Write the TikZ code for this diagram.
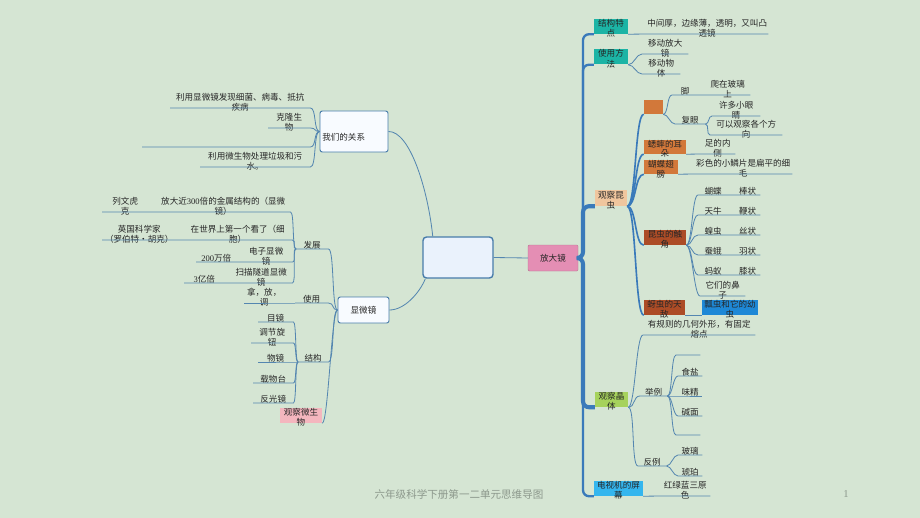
\documentclass[tikz,border=0pt]{standalone}
\usepackage{fontspec}
\setmainfont{Noto Sans CJK SC}
\newfontfamily\numf{Liberation Serif}

\definecolor{bgc}{RGB}{213,229,211}
\definecolor{linec}{RGB}{84,134,176}
\definecolor{trunkc}{RGB}{58,122,186}
\definecolor{txtc}{RGB}{38,38,38}
\definecolor{centerfill}{RGB}{234,242,252}
\definecolor{centerline}{RGB}{72,124,170}
\definecolor{relfill}{RGB}{248,251,255}
\definecolor{pinkbox}{RGB}{228,142,180}
\definecolor{tealbox}{RGB}{28,180,165}
\definecolor{peachbox}{RGB}{240,198,158}
\definecolor{orangebox}{RGB}{210,120,58}
\definecolor{brownbox}{RGB}{172,76,38}
\definecolor{bluebox}{RGB}{30,136,214}
\definecolor{greenbox}{RGB}{166,210,92}
\definecolor{cyanbox}{RGB}{52,182,238}
\definecolor{rosebox}{RGB}{244,182,190}
\definecolor{footc}{RGB}{140,152,140}

\newcommand{\px}{0.3mm}
\newcommand{\leaffont}{\fontsize{7.3}{8.3}\selectfont}
\newcommand{\twoln}[2]{\raisebox{0pt}[0pt][0pt]{\begin{tabular}[t]{@{}c@{}}#1\\#2\end{tabular}}}

\begin{document}
\begin{tikzpicture}[
    x=\px, y=-\px,
    br/.style={draw=linec, line width=0.7pt},
    brk/.style={draw=trunkc, line width=1.4pt},
    trunk/.style={draw=trunkc, line width=#1, rounded corners=1.8mm},
    cv/.style={to path={.. controls +(#1,0) and +(-#1,0) .. (\tikztotarget) \tikztonodes}},
    leaf/.style={inner sep=0pt, anchor=south west, align=center,
      font=\leaffont, text=txtc, minimum width=#1*\px},
    leaftwo/.style={leaf=#1, outer ysep=-2.5pt},
    catbox/.style={inner sep=0pt, font=\leaffont, text=txtc,
      minimum width=#1*\px, minimum height=15*\px},
    hubbox/.style={draw=centerline, line width=0.8pt, fill=relfill,
      rounded corners=2pt, font=\leaffont, text=txtc, inner sep=0pt}
  ]

  \fill[bgc] (0,0) rectangle (920,518);
  \useasboundingbox (0,0) rectangle (920,518);

  % centre
  \node[draw=centerline, line width=1.2pt, fill=centerfill, rounded corners=3pt,
    minimum width=70*\px, minimum height=41*\px] (zx) at (458,257.5) {};
  \node[fill=pinkbox, draw=pinkbox!80!black, rounded corners=1pt, font=\leaffont,
    text=txtc, inner sep=0pt, minimum width=50*\px, minimum height=26*\px] (fdj) at (553,258) {放大镜};
  \node[hubbox, minimum width=68*\px, minimum height=41*\px] (wmgx) at (354,131.5)
    {\makebox[19mm][l]{\raisebox{-7.5pt}[0pt][0pt]{我们的关系}}};
  \node[hubbox, minimum width=51*\px, minimum height=26*\px] (xwj) at (363.5,310) {显微镜};

  \draw[br] (zx.east) -- (fdj.west);
  \draw[br] (zx.140) .. controls (428,190) and (410,131) .. (wmgx.east);
  \draw[br] (zx.213) .. controls (420,292) and (405,310) .. (xwj.east);

  % left: relation
  \node[leaftwo=140] (wm1) at (170,108) {利用显微镜发现细菌、病毒、抵抗\\疾病};
  \node[leaftwo=42] (wm2) at (268,128) {克隆生\\物};
  \node[leaf=168] (wm3) at (142,147) {};
  \node[leaftwo=110] (wm4) at (200,167) {利用微生物处理垃圾和污\\水。};

  \draw[br] (wmgx.west) to[cv=-6] (wm1.south east) -- (wm1.south west);
  \draw[br] (wmgx.west) to[cv=-6] (wm2.south east) -- (wm2.south west);
  \draw[br] (wmgx.west) to[cv=-6] (wm3.south east) -- (wm3.south west);
  \draw[br] (wmgx.west) to[cv=-6] (wm4.south east) -- (wm4.south west);

  % left: microscope
  \node[leaf=32] (fz) at (296,249) {发展};
  \node[leaf=33] (sy) at (295,303) {使用};
  \node[leaf=30] (jg) at (298,362) {结构};
  \node[catbox=42, fill=rosebox] (gcws) at (301,415.5) {\twoln{观察微生}{物}};

  \draw[br] (xwj.west) to[cv=-6] (fz.south east) -- (fz.south west);
  \draw[br] (xwj.west) to[cv=-6] (sy.south east) -- (sy.south west);
  \draw[br] (xwj.west) to[cv=-6] (jg.south east) -- (jg.south west);
  \draw[br] (xwj.west) to[cv=-6] (gcws.south east);

  \node[leaftwo=134] (fz1) at (156,212) {放大近{\numf 300}倍的金属结构的（显微\\镜）};
  \node[leaftwo=46] (fz1a) at (102,212) {列文虎\\克};
  \node[leaftwo=109] (fz2) at (183,240) {在世界上第一个看了（细\\胞）};
  \node[leaftwo=74] (fz2a) at (102,240) {英国科学家\\（罗伯特•胡克）};
  \node[leaftwo=52] (fz3) at (240,262) {电子显微\\镜};
  \node[leaf=40] (fz3a) at (196,262) {{\numf 200}万倍};
  \node[leaftwo=62] (fz4) at (230,283) {扫描隧道显微\\镜};
  \node[leaf=40] (fz4a) at (184,283) {{\numf 3}亿倍};

  \draw[br] (fz.south west) to[cv=-4] (fz1.south east) -- (fz1.south west) -- (fz1a.south east) -- (fz1a.south west);
  \draw[br] (fz.south west) to[cv=-4] (fz2.south east) -- (fz2.south west) -- (fz2a.south east) -- (fz2a.south west);
  \draw[br] (fz.south west) to[cv=-4] (fz3.south east) -- (fz3.south west) -- (fz3a.south east) -- (fz3a.south west);
  \draw[br] (fz.south west) to[cv=-4] (fz4.south east) -- (fz4.south west) -- (fz4a.south east) -- (fz4a.south west);

  \node[leaftwo=40] (sy1) at (244,303) {拿，放，\\调};
  \draw[br] (sy.south west) -- (sy1.south east) -- (sy1.south west);

  \node[leaf=35] (jg1) at (258,322) {目镜};
  \node[leaftwo=42] (jg2) at (251,343) {调节旋\\钮};
  \node[leaf=35] (jg3) at (258,362) {物镜};
  \node[leaf=40] (jg4) at (253,383) {载物台};
  \node[leaf=40] (jg5) at (253,403) {反光镜};

  \draw[br] (jg.south west) to[cv=-3] (jg1.south east) -- (jg1.south west);
  \draw[br] (jg.south west) to[cv=-3] (jg2.south east) -- (jg2.south west);
  \draw[br] (jg.south west) to[cv=-3] (jg3.south east) -- (jg3.south west);
  \draw[br] (jg.south west) to[cv=-3] (jg4.south east) -- (jg4.south west);
  \draw[br] (jg.south west) to[cv=-3] (jg5.south east) -- (jg5.south west);

  % right: magnifier
  \node[catbox=34, fill=tealbox] (jgtd) at (611,26.5) {\twoln{结构特}{点}};
  \node[catbox=34, fill=tealbox] (syff) at (611,57) {\twoln{使用方}{法}};
  \node[catbox=32, fill=peachbox, minimum height=16*\px] (gckc) at (611,198) {\twoln{观察昆}{虫}};
  \node[catbox=33, fill=greenbox] (gcjt) at (611.5,399.5) {\twoln{观察晶}{体}};
  \node[catbox=49, fill=cyanbox] (dsj) at (618.5,488.5) {\twoln{电视机的屏}{幕}};

  \draw[trunk=2pt] (fdj.east) -- (583,258) |- (jgtd.south west);
  \draw[trunk=2pt] (fdj.east) -- (583,258) |- (syff.south west);
  \draw[trunk=2pt] (fdj.east) -- (583,258) |- (dsj.south west);
  \draw[trunk=3.5pt] (fdj.east) -- (583,258) |- (gckc.south west);
  \draw[trunk=3.5pt] (fdj.east) -- (583,258) |- (gcjt.south west);

  \node[leaftwo=122] (jgtd1) at (646,34) {中间厚，边缘薄，透明，又叫凸\\透镜};
  \draw[br] (jgtd.south east) -- (jgtd1.south west) -- (jgtd1.south east);

  \node[leaftwo=46] (syff1) at (642,54) {移动放大\\镜};
  \node[leaftwo=38] (syff2) at (642,74) {移动物\\体};
  \draw[br] (syff.south east) to[cv=6] (syff1.south west) -- (syff1.south east);
  \draw[br] (syff.south east) to[cv=6] (syff2.south west) -- (syff2.south east);

  % insects
  \node[catbox=19, fill=orangebox, minimum height=14*\px] (kbox) at (653.5,107) {};
  \node[catbox=42, fill=orangebox, minimum height=14*\px] (xsez) at (665,147) {\twoln{蟋蟀的耳}{朵}};
  \node[catbox=34, fill=orangebox, minimum height=14*\px] (hdcb) at (661,167) {\twoln{蝴蝶翅}{膀}};
  \node[catbox=42, fill=brownbox] (kccj) at (665,237.5) {\twoln{昆虫的触}{角}};
  \node[catbox=41, fill=brownbox] (yctd) at (664.5,307.5) {\twoln{蚜虫的天}{敌}};
  \node[catbox=56, fill=bluebox] (pcyc) at (730,307.5) {\twoln{瓢虫和它的幼}{虫}};

  \draw[brk] (gckc.south east) to[cv=9] (kbox.south west);
  \draw[brk] (gckc.south east) to[cv=9] (xsez.south west);
  \draw[brk] (gckc.south east) to[cv=9] (hdcb.south west);
  \draw[brk] (gckc.south east) to[cv=9] (kccj.south west);
  \draw[brk] (gckc.south east) to[cv=9] (yctd.south west);

  \node[leaf=26] (jiao) at (672,95) {脚};
  \node[leaftwo=45] (pbl) at (705,95) {爬在玻璃\\上};
  \node[leaf=30] (fuy) at (675,124) {复眼};
  \node[leaftwo=48] (xdxy) at (712,116) {许多小眼\\睛};
  \node[leaftwo=72] (gcfx) at (710,135) {可以观察各个方\\向};

  \draw[br] (kbox.south east) to[cv=5] (jiao.south west) -- (jiao.south east) -- (pbl.south west) -- (pbl.south east);
  \draw[br] (kbox.south east) to[cv=5] (fuy.south west) -- (fuy.south east);
  \draw[br] (fuy.south east) to[cv=4] (xdxy.south west) -- (xdxy.south east);
  \draw[br] (fuy.south east) to[cv=4] (gcfx.south west) -- (gcfx.south east);

  \node[leaftwo=35] (zndc) at (700,154) {足的内\\侧};
  \draw[br] (xsez.south east) -- (zndc.south west) -- (zndc.south east);
  \node[leaftwo=98] (cslp) at (694,174) {彩色的小鳞片是扁平的细\\毛};
  \draw[br] (hdcb.south east) -- (cslp.south west) -- (cslp.south east);

  \node[leaf=30] (hdcj) at (698,195) {蝴蝶};
  \node[leaf=25] (bangz) at (735,195) {棒状};
  \node[leaf=30] (tniu) at (698,215) {天牛};
  \node[leaf=25] (bianz) at (735,215) {鞭状};
  \node[leaf=30] (hchong) at (698,235) {蝗虫};
  \node[leaf=25] (siz) at (735,235) {丝状};
  \node[leaf=30] (ce) at (698,255) {蚕蛾};
  \node[leaf=25] (yuz) at (735,255) {羽状};
  \node[leaf=30] (mayi) at (698,275) {蚂蚁};
  \node[leaf=25] (xiz) at (735,275) {膝状};
  \node[leaftwo=45] (tmbz) at (700,296) {它们的鼻\\子};

  \draw[br] (kccj.south east) to[cv=6] (hdcj.south west) -- (hdcj.south east) -- (bangz.south west) -- (bangz.south east);
  \draw[br] (kccj.south east) to[cv=6] (tniu.south west) -- (tniu.south east) -- (bianz.south west) -- (bianz.south east);
  \draw[br] (kccj.south east) to[cv=6] (hchong.south west) -- (hchong.south east) -- (siz.south west) -- (siz.south east);
  \draw[br] (kccj.south east) to[cv=6] (ce.south west) -- (ce.south east) -- (yuz.south west) -- (yuz.south east);
  \draw[br] (kccj.south east) to[cv=6] (mayi.south west) -- (mayi.south east) -- (xiz.south west) -- (xiz.south east);
  \draw[br] (kccj.south east) to[cv=6] (tmbz.south west) -- (tmbz.south east);

  \draw[br] (yctd.south east) -- (pcyc.south west);

  % crystals
  \node[leaftwo=112] (gzwx) at (643,335) {有规则的几何外形，有固定\\熔点};
  \node[leaf=27] (jl) at (640,396) {举例};
  \node[leaf=28] (fl) at (638,466) {反例};

  \draw[br] (gcjt.south east) to[cv=7] (gzwx.south west) -- (gzwx.south east);
  \draw[br] (gcjt.south east) to[cv=7] (jl.south west) -- (jl.south east);
  \draw[br] (gcjt.south east) to[cv=7] (fl.south west) -- (fl.south east);

  \node[leaf=24] (kb1) at (676,355) {};
  \node[leaf=24] (shiy) at (678,376) {食盐};
  \node[leaf=24] (wjing) at (678,396) {味精};
  \node[leaf=24] (jmian) at (678,416) {碱面};
  \node[leaf=24] (kb2) at (676,435) {};

  \draw[br] (jl.south east) to[cv=5] (kb1.south west) -- (kb1.south east);
  \draw[br] (jl.south east) to[cv=5] (shiy.south west) -- (shiy.south east);
  \draw[br] (jl.south east) to[cv=5] (wjing.south west) -- (wjing.south east);
  \draw[br] (jl.south east) to[cv=5] (jmian.south west) -- (jmian.south east);
  \draw[br] (jl.south east) to[cv=5] (kb2.south west) -- (kb2.south east);

  \node[leaf=24] (boli) at (678,455) {玻璃};
  \node[leaf=24] (hupo) at (678,476) {琥珀};

  \draw[br] (fl.south east) to[cv=5] (boli.south west) -- (boli.south east);
  \draw[br] (fl.south east) to[cv=5] (hupo.south west) -- (hupo.south east);

  % screen
  \node[leaftwo=50] (hlls) at (660,496) {红绿蓝三原\\色};
  \draw[br] (dsj.south east) -- (hlls.south west) -- (hlls.south east);

  % footer
  \node[font=\fontsize{9}{10}\selectfont, text=footc] (ftit) at (459,494) {六年级科学下册第一二单元思维导图};
  \node[font=\fontsize{9}{10}\selectfont\numf, text=footc] (pgno) at (846,494) {1};

\end{tikzpicture}
\end{document}
